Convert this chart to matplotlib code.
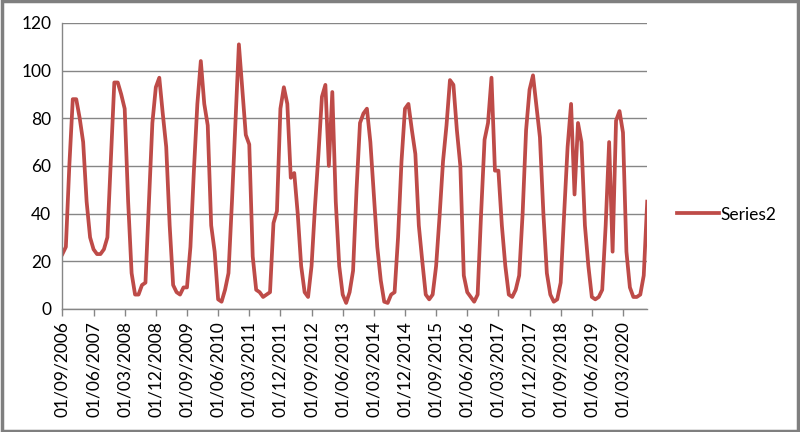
import matplotlib
matplotlib.use("Agg")
import matplotlib.pyplot as plt
from matplotlib.patches import Rectangle
import pandas as pd

# monthly values, starting 01/09/2006
start_date = "2006-09-01"
values = [
    23, 26, 60, 88, 88, 80, 70, 45, 30, 25, 23, 23,
    25, 30, 62, 95, 95, 90, 84, 45, 15, 6, 6, 10,
    11, 45, 78, 93, 97, 82, 68, 35, 10, 7, 6, 9,
    9, 26, 58, 86, 104, 86, 77, 35, 24, 4, 3, 8,
    15, 45, 78, 111, 92, 73, 69, 22, 8, 7, 5, 6,
    7, 36, 41, 84, 93, 86, 55, 57, 40, 18, 7, 5,
    18, 43, 65, 89, 94, 60, 91, 45, 18, 6, 2.5, 7,
    16, 50, 78, 82, 84, 70, 48, 26, 12, 3, 2.5, 6,
    7, 30, 62, 84, 86, 75, 65, 35, 20, 6, 4, 6,
    18, 39, 62, 77, 96, 94, 75, 60, 14, 7, 5, 3,
    6, 40, 71, 78, 97, 58, 58, 35, 18, 6, 5, 8,
    14, 40, 75, 92, 98, 85, 72, 40, 15, 6, 3, 4,
    11, 40, 68, 86, 48, 78, 70, 35, 18, 5, 4, 5,
    8, 35, 70, 24, 79, 83, 74, 24, 9, 5, 5, 6,
    14, 45,
]
series_name = "Series2"
y_ticks = [0, 20, 40, 60, 80, 100, 120]

dates = pd.date_range(start_date, periods=len(values), freq="MS")
tick_idx = list(range(0, len(values), 9))
tick_labels = [dates[i].strftime("%d/%m/%Y") for i in tick_idx]

plt.rcParams['font.family'] = ['Lato', 'DejaVu Sans']

fig = plt.figure(figsize=(8, 4.32), dpi=100)
ax = fig.add_axes([0.078, 0.285, 0.731, 0.662])

ax.plot(range(len(values)), values, color='#BE4B48', linewidth=2.7,
        solid_joinstyle='round', label=series_name)

ax.set_xlim(0, len(values) - 1)
ax.set_ylim(0, 120)
ax.set_yticks(y_ticks)
ax.set_xticks(tick_idx)
ax.set_xticklabels(tick_labels, rotation=90, fontsize=12.5)
ax.tick_params(axis='y', length=0, labelsize=12.5, pad=8)
ax.tick_params(axis='x', length=5, width=1, color='#868686', direction='out', pad=4)
ax.yaxis.grid(True, color='#868686', linewidth=1)
ax.set_axisbelow(True)

for side in ['top', 'right']:
    ax.spines[side].set_visible(False)
for side in ['left', 'bottom']:
    ax.spines[side].set_color('#868686')
    ax.spines[side].set_linewidth(1)

ax.legend(loc='center left', bbox_to_anchor=(1.024, 0.33), frameon=False,
          fontsize=12.5, handlelength=2.4, handletextpad=0.1)

# grey frame round the whole chart
fig.patches.append(Rectangle((0.002, 0.003), 0.996, 0.994, transform=fig.transFigure,
                             fill=False, edgecolor='#7F7F7F', linewidth=2.5))

fig.savefig("out.png", dpi=100)
